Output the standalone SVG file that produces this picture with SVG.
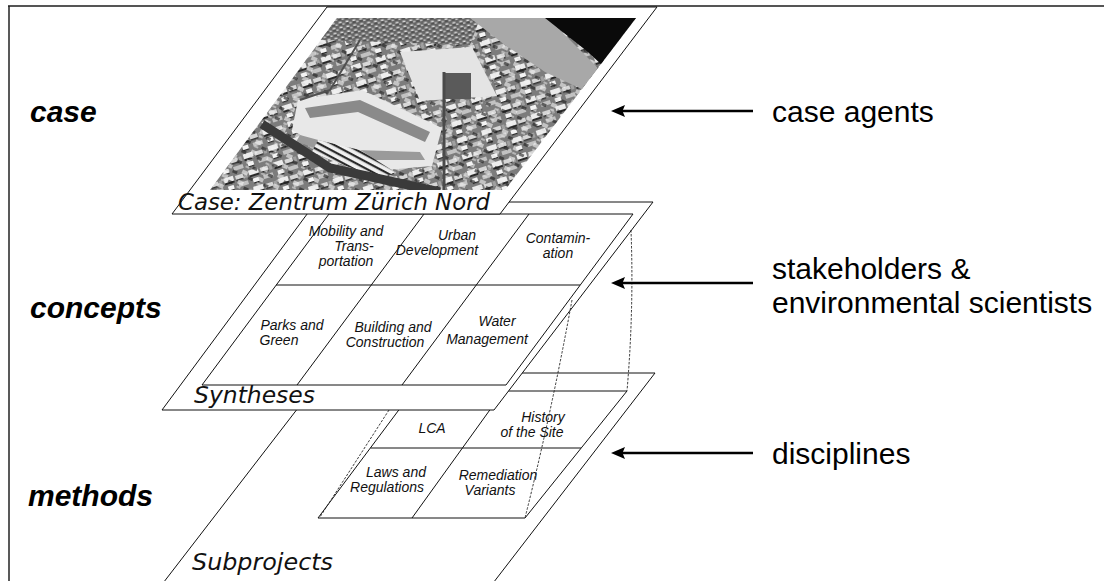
<svg xmlns="http://www.w3.org/2000/svg" width="1104" height="581" viewBox="0 0 1104 581">
<style>
  .plane{fill:#fff;stroke:#111;stroke-width:1}
  .edge{fill:none;stroke:#111;stroke-width:1}
  .side{font-family:"Liberation Sans",Arial,sans-serif;font-size:30px;font-weight:bold;font-style:italic;fill:#000}
  .lab{font-family:"Liberation Sans",Arial,sans-serif;font-size:30px;fill:#000}
  .cell{font-family:"Liberation Sans",Arial,sans-serif;font-style:italic;font-size:14px;text-anchor:middle;fill:#111}
  .big{font-family:"DejaVu Sans",Verdana,sans-serif;font-style:italic;font-size:23px;fill:#111}
  .dash{fill:none;stroke:#222;stroke-width:0.9;stroke-dasharray:2.5 1.5}
  .arrow{fill:none;stroke:#000;stroke-width:2.6;marker-end:url(#head)}
</style>
<defs>
  <marker id="head" viewBox="0 0 14 12" refX="5" refY="6" markerWidth="14" markerHeight="12" markerUnits="userSpaceOnUse" orient="auto">
    <path d="M0,0 L14,6 L0,12 L2.5,6 z" fill="#000"/>
  </marker>
  <pattern id="city" width="26" height="17" patternUnits="userSpaceOnUse" patternTransform="rotate(-18)">
    <rect width="26" height="17" fill="#7c7c7c"/>
    <rect x="1" y="1" width="10" height="5" fill="#ececec"/>
    <rect x="1" y="6" width="10" height="2" fill="#2a2a2a"/>
    <rect x="13" y="2" width="8" height="4" fill="#d6d6d6"/>
    <rect x="13" y="6" width="8" height="1.5" fill="#333"/>
    <rect x="3" y="10" width="6" height="4" fill="#f4f4f4"/>
    <rect x="3" y="14" width="6" height="1.2" fill="#2a2a2a"/>
    <rect x="14" y="10" width="10" height="4" fill="#c2c2c2"/>
    <rect x="22" y="2" width="3" height="5" fill="#a0a0a0"/>
  </pattern>
  <pattern id="city2" width="17" height="11" patternUnits="userSpaceOnUse" patternTransform="rotate(24)">
    <rect width="17" height="11" fill="none"/>
    <rect x="2" y="1" width="6" height="4" fill="#f2f2f2"/>
    <rect x="10" y="5" width="5" height="3" fill="#1c1c1c"/>
    <rect x="3" y="7" width="4" height="2" fill="#dcdcdc"/>
  </pattern>
  <pattern id="fine" width="7" height="5" patternUnits="userSpaceOnUse" patternTransform="rotate(-10)">
    <rect width="7" height="5" fill="#666"/>
    <rect x="0.5" y="0.5" width="3" height="2" fill="#e0e0e0"/>
    <rect x="4" y="2.5" width="2.5" height="1.5" fill="#c4c4c4"/>
    <rect x="0.5" y="2.5" width="3" height="0.8" fill="#111"/>
  </pattern>
  <pattern id="rails" width="6" height="6" patternUnits="userSpaceOnUse" patternTransform="rotate(28)">
    <rect width="6" height="6" fill="#f0f0f0"/>
    <rect y="0" width="6" height="2.2" fill="#2a2a2a"/>
  </pattern>
  <clipPath id="photoClip">
    <polygon points="337,18 636,18 505,190 210,190"/>
  </clipPath>
</defs>

<g id="frame">
  <line x1="8" y1="6" x2="1104" y2="6" stroke="#555" stroke-width="2"/>
  <line x1="9" y1="6" x2="9" y2="581" stroke="#222" stroke-width="1.5"/>
</g>

<g id="layer-labels">
  <text class="side" x="30" y="122">case</text>
  <text class="side" x="30" y="318">concepts</text>
  <text class="side" x="28" y="506">methods</text>
</g>

<g id="methods">
  <polygon class="plane" points="325,373 655,373 480,600 150,600"/>
  <polygon class="edge" points="413,391 627,391 525,518 318,518"/>
  <line class="edge" x1="370.5" y1="448" x2="581" y2="448"/>
  <line class="edge" x1="503.5" y1="391" x2="412" y2="518"/>
  <text class="cell" x="432" y="433">LCA</text>
  <text class="cell" x="543" y="422">History</text>
  <text class="cell" x="532" y="437">of the Site</text>
  <text class="cell" x="396" y="477">Laws and</text>
  <text class="cell" x="387" y="492">Regulations</text>
  <text class="cell" x="498" y="480">Remediation</text>
  <text class="cell" x="490" y="495">Variants</text>
  <text class="big" x="192" y="570" textLength="141" lengthAdjust="spacingAndGlyphs">Subprojects</text>
</g>

<g id="concepts">
  <polygon class="plane" points="316,202 653,202 494,410 162,410"/>
  <polygon class="edge" points="329,214 633,214 506,385 202,385"/>
  <line class="edge" x1="276" y1="285" x2="580" y2="285"/>
  <line class="edge" x1="424" y1="214" x2="297" y2="385"/>
  <line class="edge" x1="529" y1="214" x2="402" y2="385"/>
  <text class="cell" x="346" y="236">Mobility and</text>
  <text class="cell" x="354" y="251">Trans-</text>
  <text class="cell" x="346" y="266">portation</text>
  <text class="cell" x="457" y="240">Urban</text>
  <text class="cell" x="437" y="255">Development</text>
  <text class="cell" x="558" y="243">Contamin-</text>
  <text class="cell" x="558" y="258">ation</text>
  <text class="cell" x="292" y="330">Parks and</text>
  <text class="cell" x="279" y="345">Green</text>
  <text class="cell" x="393" y="332">Building and</text>
  <text class="cell" x="385" y="347">Construction</text>
  <text class="cell" x="497" y="326">Water</text>
  <text class="cell" x="487" y="344">Management</text>
  <text class="big" x="194" y="403" textLength="121" lengthAdjust="spacingAndGlyphs">Syntheses</text>
</g>

<g id="case">
  <polygon class="plane" points="327,7 657,7 500,214 172,214"/>
  <g clip-path="url(#photoClip)">
    <rect x="200" y="15" width="450" height="180" fill="url(#city)"/>
    <rect x="200" y="15" width="450" height="180" fill="url(#city2)" opacity="0.6"/>
    <polygon points="330,18 480,18 470,45 320,40" fill="url(#fine)"/>
    <polygon points="470,18 548,18 600,70 588,92 545,72 505,45" fill="#a8a8a8"/>
    <polygon points="545,18 640,18 603,66 588,52" fill="#0a0a0a"/>
    <polygon points="400,52 472,47 497,96 420,101" fill="#e4e4e4"/>
    <rect x="443" y="73" width="28" height="26" fill="#5a5a5a"/>
    <polygon points="298,100 362,90 442,128 432,166 362,172 292,130" fill="#e8e8e8"/>
    <polygon points="305,108 360,100 430,132 425,142 358,112 310,118" fill="#8a8a8a"/>
    <polygon points="300,135 355,150 420,152 425,160 355,160 296,142" fill="#9a9a9a"/>
    <polygon points="318,140 360,150 395,172 382,178 340,164 312,152" fill="url(#rails)"/>
    <path d="M262,124 L330,168 L440,192" fill="none" stroke="#3a3a3a" stroke-width="9"/>
    <line x1="444" y1="72" x2="444" y2="190" stroke="#4a4a4a" stroke-width="3"/>
    <path d="M360,40 L330,90 L300,100" fill="none" stroke="#505050" stroke-width="2"/>
  </g>
  <text class="big" x="178" y="210" textLength="312" lengthAdjust="spacingAndGlyphs">Case: Zentrum Zürich Nord</text>
</g>

<g id="connectors">
  <path class="dash" d="M631,230 Q634,310 627,391"/>
  <path class="dash" d="M572,300 Q552,410 525,518"/>
  <path class="dash" d="M389,410 L320,517"/>
  <line class="arrow" x1="753" y1="111" x2="620" y2="111"/>
  <line class="arrow" x1="753" y1="283" x2="620" y2="283"/>
  <line class="arrow" x1="753" y1="453" x2="620" y2="453"/>
</g>

<g id="agent-labels">
  <text class="lab" x="772" y="122">case agents</text>
  <text class="lab" x="772" y="279">stakeholders &amp;</text>
  <text class="lab" x="772" y="313">environmental scientists</text>
  <text class="lab" x="772" y="464">disciplines</text>
</g>
</svg>
